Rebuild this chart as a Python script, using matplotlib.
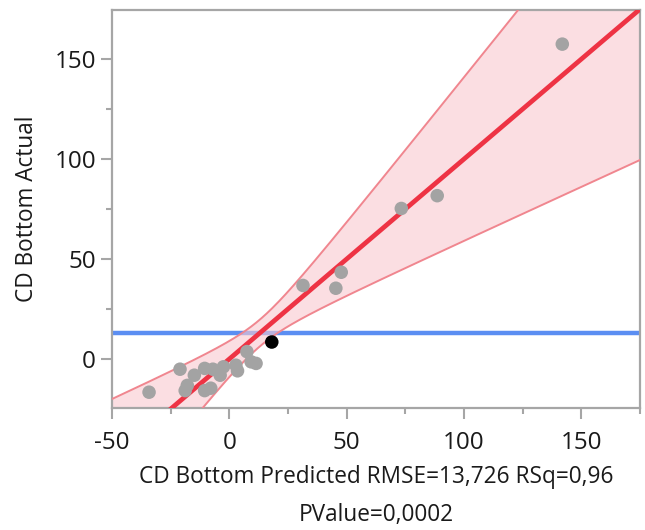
import numpy as np
import matplotlib
matplotlib.use("Agg")
import matplotlib.pyplot as plt
from matplotlib.ticker import MultipleLocator

# ---- data ----
predicted = [-34.2, -21.0, -14.9, -17.9, -18.8, -10.5, -7.0, -2.5, -3.9, -10.5,
             -7.9, 2.8, 3.5, 7.5, 9.3, 11.4, 31.4, 45.4, 47.7, 73.3, 88.6, 141.9]
actual = [-16.6, -5.1, -8.1, -13.2, -15.8, -4.7, -5.1, -3.9, -8.1, -15.8,
          -14.6, -3.1, -5.9, 3.7, -1.4, -2.2, 36.8, 35.4, 43.4, 75.3, 81.7, 157.5]
highlight_predicted = [18.1]
highlight_actual = [8.5]

fit_slope = 1.0
fit_intercept = 0.0
mean_actual = 13.0
band_center = 13.0
band_min_halfwidth = 6.7
band_spread = 0.464

x_ticks = [-50, 0, 50, 100, 150]
y_ticks = [0, 50, 100, 150]
x_label = "CD Bottom Predicted RMSE=13,726 RSq=0,96\nPValue=0,0002"
y_label = "CD Bottom Actual"

# ---- plot ----
plt.rcParams['font.family'] = ['Open Sans', 'DejaVu Sans']
plt.rcParams['axes.unicode_minus'] = False
fig = plt.figure(figsize=(6.45, 5.3), dpi=100)
ax = fig.add_axes([0.1736, 0.2302, 0.8186, 0.7518])
xmin, xmax = -50, 175
ymin, ymax = -24.5, 174.8
ax.set_xlim(xmin, xmax)
ax.set_ylim(ymin, ymax)

xs = np.linspace(xmin, xmax, 400)
fit = fit_slope * xs + fit_intercept
hw = np.sqrt(band_min_halfwidth**2 + band_spread**2 * (xs - band_center)**2)

ax.axhline(mean_actual, color='#5b8ef2', lw=3.2, zorder=1)
ax.fill_between(xs, fit - hw, fit + hw, color='#f9c9cf', alpha=0.6, lw=0, zorder=2)
ax.plot(xs, fit + hw, color='#f0868f', lw=1.4, zorder=3)
ax.plot(xs, fit - hw, color='#f0868f', lw=1.4, zorder=3)
ax.plot(xs, fit, color='#ee3344', lw=3.4, zorder=4, solid_capstyle='butt')

ax.scatter(predicted, actual, s=95, color='#a3a3a3', edgecolors='none', zorder=5)
ax.scatter(highlight_predicted, highlight_actual, s=95, color='black', edgecolors='none', zorder=6)

ax.set_xticks(x_ticks)
ax.set_yticks(y_ticks)
ax.xaxis.set_minor_locator(MultipleLocator(25))
ax.yaxis.set_minor_locator(MultipleLocator(25))
for s in ax.spines.values():
    s.set_color('#a6a6a6')
    s.set_linewidth(1.6)
ax.tick_params(which='major', length=8, width=1.5, color='#a6a6a6', labelsize=17.5,
               labelcolor='#1a1a1a')
ax.tick_params(which='minor', length=4, width=1.5, color='#a6a6a6')
ax.tick_params(axis='x', which='major', pad=8.5)
ax.tick_params(axis='y', which='major', pad=3.5)
ax.set_xlabel(x_label, fontsize=16.3, color='#1a1a1a', linespacing=1.8, labelpad=7)
ax.set_ylabel(y_label, fontsize=16.3, color='#1a1a1a', labelpad=11)

fig.savefig("out.png", dpi=100)
